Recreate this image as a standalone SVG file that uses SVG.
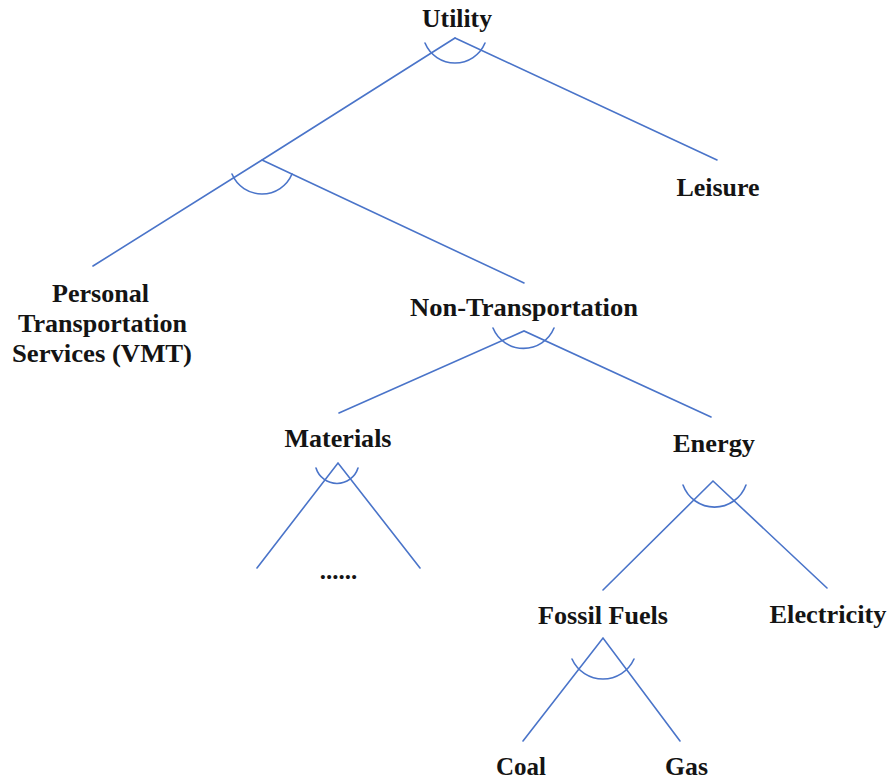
<svg xmlns="http://www.w3.org/2000/svg" width="888" height="782" viewBox="0 0 888 782">
<style>
.ln{stroke:#4a74c9;stroke-width:1.6;fill:none;stroke-linecap:round}
.t{font-family:"Liberation Serif","Times New Roman",serif;font-weight:bold;font-size:25px;fill:#141414;text-anchor:middle}
</style>
<rect width="888" height="782" fill="#fff"/>
<g id="connectors">
<path class="ln" d="M455,38 L262,160 L93,266"/>
<path class="ln" d="M262,160 L524,283"/>
<path class="ln" d="M455,38 L717,160"/>
<path class="ln" d="M339,413 L524,331 L711,417"/>
<path class="ln" d="M257,568 L338,463 L420,568"/>
<path class="ln" d="M603,590 L713,481 L827,588"/>
<path class="ln" d="M523,741 L603,638 L680,741"/>
<path class="ln" d="M425,43 A32.5,32.5 0 0 0 485,43"/>
<path class="ln" d="M232,174 A32.5,32.5 0 0 0 292,174"/>
<path class="ln" d="M493,328 A33,33 0 0 0 554,328"/>
<path class="ln" d="M316,468 A22,22 0 0 0 358,468"/>
<path class="ln" d="M683,485 A33.5,33.5 0 0 0 746,485"/>
<path class="ln" d="M572,659 A34,34 0 0 0 634,659"/>
</g>
<g id="utility"><text class="t" x="457" y="27" textLength="70" lengthAdjust="spacingAndGlyphs">Utility</text></g>
<g id="leisure"><text class="t" x="718" y="196" textLength="83" lengthAdjust="spacingAndGlyphs">Leisure</text></g>
<g id="personal">
<text class="t" x="100.5" y="302" textLength="97" lengthAdjust="spacingAndGlyphs">Personal</text>
<text class="t" x="102.5" y="332" textLength="169" lengthAdjust="spacingAndGlyphs">Transportation</text>
<text class="t" x="102" y="362" textLength="180" lengthAdjust="spacingAndGlyphs">Services (VMT)</text>
</g>
<g id="nontransportation"><text class="t" x="524" y="316" textLength="228" lengthAdjust="spacingAndGlyphs">Non-Transportation</text></g>
<g id="materials"><text class="t" x="338" y="447" textLength="107" lengthAdjust="spacingAndGlyphs">Materials</text></g>
<g id="materials-more"><text class="t" x="338.5" y="579">......</text></g>
<g id="energy"><text class="t" x="714" y="452" textLength="82" lengthAdjust="spacingAndGlyphs">Energy</text></g>
<g id="fossilfuels"><text class="t" x="603" y="624" textLength="130" lengthAdjust="spacingAndGlyphs">Fossil Fuels</text></g>
<g id="electricity"><text class="t" x="828" y="623" textLength="117" lengthAdjust="spacingAndGlyphs">Electricity</text></g>
<g id="coal"><text class="t" x="521" y="775" textLength="50" lengthAdjust="spacingAndGlyphs">Coal</text></g>
<g id="gas"><text class="t" x="686.5" y="775" textLength="43" lengthAdjust="spacingAndGlyphs">Gas</text></g>
</svg>
